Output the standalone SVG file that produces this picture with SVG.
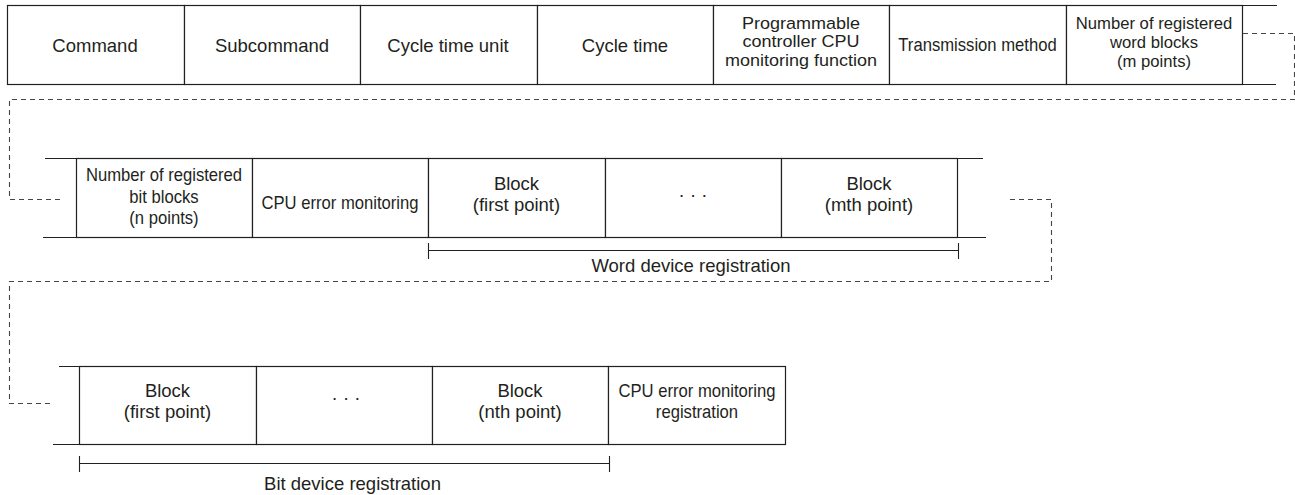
<svg xmlns="http://www.w3.org/2000/svg" width="1295" height="495" viewBox="0 0 1295 495">
<style>
  text { font-family: "Liberation Sans", Arial, sans-serif; font-size: 18.5px; fill: #231f20; text-anchor: middle; }
  .tight { font-size: 17px; }
  .cell { fill: #ffffff; stroke: #231f20; stroke-width: 1.2; }
  .rail { stroke: #231f20; stroke-width: 1.2; fill: none; }
  .dash { stroke: #454545; stroke-width: 1.1; fill: none; stroke-dasharray: 5 4; }
  .brk { stroke: #231f20; stroke-width: 1.1; fill: none; }
</style>
<rect width="1295" height="495" fill="#ffffff"/>

<!-- Row 1 -->
<g id="row1-rails">
  <line class="rail" x1="7" y1="5.5" x2="1277" y2="5.5"/>
  <line class="rail" x1="7" y1="84.5" x2="1276" y2="84.5"/>
</g>
<g id="cmd"><rect class="cell" x="7.5" y="5.5" width="177" height="79"/><text x="95" y="51.5">Command</text></g>
<g id="subcmd"><rect class="cell" x="184.5" y="5.5" width="176" height="79"/><text x="272" y="51.5">Subcommand</text></g>
<g id="cycle-unit"><rect class="cell" x="360.5" y="5.5" width="177" height="79"/><text x="448" y="51.5">Cycle time unit</text></g>
<g id="cycle-time"><rect class="cell" x="537.5" y="5.5" width="176" height="79"/><text x="625" y="51.5">Cycle time</text></g>
<g id="plc-monitor"><rect class="cell" x="713.5" y="5.5" width="176" height="79"/>
  <g transform="translate(801 0) scale(1.06 1) translate(-801 0)">
    <text class="tight" x="801" y="29">Programmable</text>
    <text class="tight" x="801" y="47.5">controller CPU</text>
    <text class="tight" x="801" y="66">monitoring function</text>
  </g>
</g>
<g id="transmission"><rect class="cell" x="889.5" y="5.5" width="177" height="79"/>
  <g transform="translate(977.5 0) scale(0.9 1) translate(-977.5 0)"><text x="977.5" y="51">Transmission method</text></g>
</g>
<g id="word-blocks-count"><rect class="cell" x="1066.5" y="5.5" width="176" height="79"/>
  <g transform="translate(1154 0) scale(0.98 1) translate(-1154 0)">
    <text class="tight" x="1154" y="29.5">Number of registered</text>
    <text class="tight" x="1154" y="48.5">word blocks</text>
    <text class="tight" x="1154" y="67.5">(m points)</text>
  </g>
</g>

<!-- Row 2 -->
<g id="row2-rails">
  <line class="rail" x1="45" y1="158.5" x2="983" y2="158.5"/>
  <line class="rail" x1="43" y1="237.5" x2="986" y2="237.5"/>
</g>
<g id="bit-blocks-count"><rect class="cell" x="76.5" y="158.5" width="176" height="79"/>
  <g transform="translate(164 0) scale(0.9 1) translate(-164 0)">
    <text x="164" y="181">Number of registered</text>
    <text x="164" y="203">bit blocks</text>
    <text x="164" y="224">(n points)</text>
  </g>
</g>
<g id="cpu-error-monitoring"><rect class="cell" x="252.5" y="158.5" width="176" height="79"/>
  <g transform="translate(340 0) scale(0.9 1) translate(-340 0)"><text x="340" y="209">CPU error monitoring</text></g>
</g>
<g id="word-block-first"><rect class="cell" x="428.5" y="158.5" width="177" height="79"/>
  <text x="516.5" y="190">Block</text>
  <text x="516.5" y="211">(first point)</text>
</g>
<g id="word-block-dots"><rect class="cell" x="605.5" y="158.5" width="176" height="79"/>
  <text x="693" y="201">· · ·</text>
</g>
<g id="word-block-mth"><rect class="cell" x="781.5" y="158.5" width="176" height="79"/>
  <text x="869" y="190">Block</text>
  <text x="869" y="211">(mth point)</text>
</g>

<!-- Row 3 -->
<g id="row3-rails">
  <line class="rail" x1="59" y1="366.5" x2="785" y2="366.5"/>
  <line class="rail" x1="53" y1="444.5" x2="785" y2="444.5"/>
</g>
<g id="bit-block-first"><rect class="cell" x="79.5" y="366.5" width="177" height="78"/>
  <text x="167.5" y="397">Block</text>
  <text x="167.5" y="418">(first point)</text>
</g>
<g id="bit-block-dots"><rect class="cell" x="256.5" y="366.5" width="176" height="78"/>
  <text x="346" y="404">· · ·</text>
</g>
<g id="bit-block-nth"><rect class="cell" x="432.5" y="366.5" width="176" height="78"/>
  <text x="520" y="397">Block</text>
  <text x="520" y="418">(nth point)</text>
</g>
<g id="cpu-error-registration"><rect class="cell" x="608.5" y="366.5" width="177" height="78"/>
  <g transform="translate(697 0) scale(0.9 1) translate(-697 0)">
    <text x="697" y="397">CPU error monitoring</text>
    <text x="697" y="418">registration</text>
  </g>
</g>

<!-- Connectors -->
<g id="connectors">
  <polyline class="dash" points="1243,33.5 1294.5,33.5 1294.5,99.5 9.5,99.5 9.5,199.5 62,199.5"/>
  <polyline class="dash" points="1010,199.5 1051.5,199.5 1051.5,281.5 9.5,281.5 9.5,403.5 52,403.5"/>
</g>

<!-- Range brackets -->
<g id="word-device-registration">
  <line class="brk" x1="428.5" y1="250.5" x2="958.5" y2="250.5"/>
  <line class="brk" x1="428.5" y1="243" x2="428.5" y2="259"/>
  <line class="brk" x1="958.5" y1="243" x2="958.5" y2="259"/>
  <text x="691" y="272">Word device registration</text>
</g>
<g id="bit-device-registration">
  <line class="brk" x1="79.5" y1="463.5" x2="609.5" y2="463.5"/>
  <line class="brk" x1="79.5" y1="456" x2="79.5" y2="472"/>
  <line class="brk" x1="609.5" y1="456" x2="609.5" y2="472"/>
  <text x="352.5" y="489.5">Bit device registration</text>
</g>
</svg>
